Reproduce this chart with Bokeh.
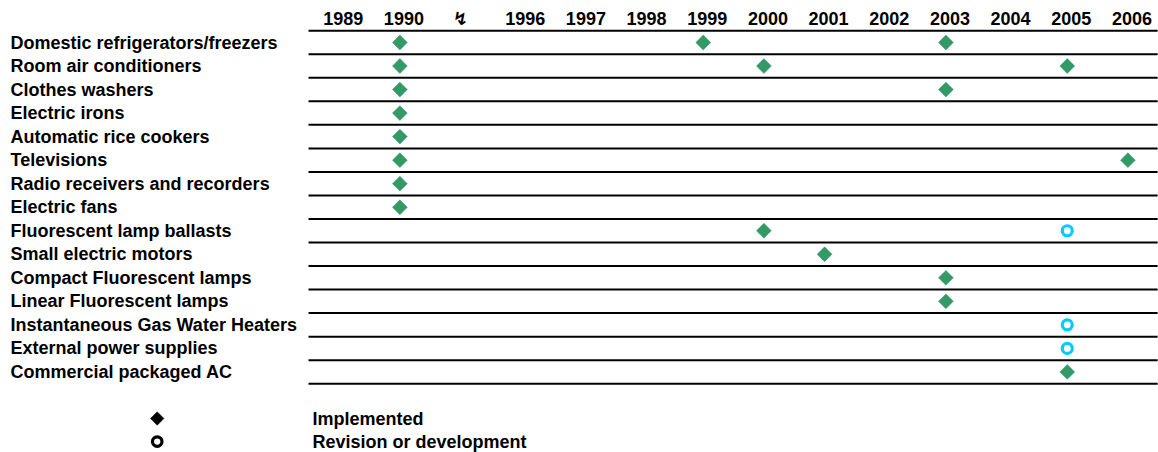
from bokeh.plotting import figure
from bokeh.models import Range1d
from bokeh.core.properties import value
from bokeh.embed import file_html
from bokeh.resources import INLINE
import math

# ---- data ----
columns = ["1989", "1990", "BREAK", "1996", "1997", "1998", "1999", "2000",
           "2001", "2002", "2003", "2004", "2005", "2006"]
break_symbol = "\u21af"

products = [
    "Domestic refrigerators/freezers",
    "Room air conditioners",
    "Clothes washers",
    "Electric irons",
    "Automatic rice cookers",
    "Televisions",
    "Radio receivers and recorders",
    "Electric fans",
    "Fluorescent lamp ballasts",
    "Small electric motors",
    "Compact Fluorescent lamps",
    "Linear Fluorescent lamps",
    "Instantaneous Gas Water Heaters",
    "External power supplies",
    "Commercial packaged AC",
]

implemented_product = [
    "Domestic refrigerators/freezers", "Domestic refrigerators/freezers", "Domestic refrigerators/freezers",
    "Room air conditioners", "Room air conditioners", "Room air conditioners",
    "Clothes washers", "Clothes washers",
    "Electric irons",
    "Automatic rice cookers",
    "Televisions", "Televisions",
    "Radio receivers and recorders",
    "Electric fans",
    "Fluorescent lamp ballasts",
    "Small electric motors",
    "Compact Fluorescent lamps",
    "Linear Fluorescent lamps",
    "Commercial packaged AC",
]
implemented_year = [
    "1990", "1999", "2003",
    "1990", "2000", "2005",
    "1990", "2003",
    "1990",
    "1990",
    "1990", "2006",
    "1990",
    "1990",
    "2000",
    "2001",
    "2003",
    "2003",
    "2005",
]

revision_product = [
    "Fluorescent lamp ballasts",
    "Instantaneous Gas Water Heaters",
    "External power supplies",
]
revision_year = ["2005", "2005", "2005"]

legend_labels = ["Implemented", "Revision or development"]

# ---- layout ----
W, H = 1158, 452
FONT = value("Liberation Sans")
GREEN = "#339966"
CYAN = "#00ccff"

colx = {c: i for i, c in enumerate(columns)}
rowy = {p: j for j, p in enumerate(products)}

p = figure(width=W, height=H, output_backend="svg", toolbar_location=None,
           x_range=Range1d(-5.583, 13.504), y_range=Range1d(17.424, -1.785),
           min_border=0)
p.xaxis.visible = False
p.yaxis.visible = False
p.grid.visible = False
p.outline_line_color = None
p.background_fill_color = "white"
p.border_fill_color = "white"

# horizontal row lines
n = len(products)
xs0 = [-0.506] * (n + 1)
xs1 = [13.49] * (n + 1)
ys = [j - 0.5 for j in range(n + 1)]
p.segment(x0=xs0, y0=ys, x1=xs1, y1=ys, line_color="black", line_width=2)

# header
hdr_x = [colx[c] for c in columns if c != "BREAK"]
hdr_t = [c for c in columns if c != "BREAK"]
p.text(x=hdr_x, y=[-1] * len(hdr_x), text=hdr_t, text_font=FONT, text_font_style="bold",
       text_font_size="18px", text_align="center", text_baseline="middle", x_offset=4,
       text_color="black")
p.text(x=[colx["BREAK"]], y=[-1], text=[break_symbol], text_font=value("DejaVu Sans"),
       text_font_style="bold", text_font_size="18px", text_align="center",
       text_baseline="middle", text_color="black")

# row labels
p.text(x=[-5.418] * n, y=list(range(n)), text=products, text_font=FONT,
       text_font_style="bold", text_font_size="18px", text_align="left",
       text_baseline="middle", text_color="black")

# implemented markers
p.scatter(x=[colx[y] for y in implemented_year], y=[rowy[q] for q in implemented_product],
          marker="square", size=10.5, angle=math.pi / 4, fill_color=GREEN, line_color=GREEN,
          line_width=0.5)

# revision markers
p.scatter(x=[colx[y] for y in revision_year], y=[rowy[q] for q in revision_product],
          marker="circle", size=10, fill_color="white", line_color=CYAN, line_width=3.2)

# legend
p.scatter(x=[-3], y=[15.98], marker="square", size=9.5, angle=math.pi / 4,
          fill_color="black", line_color="black", line_width=0.5)
p.scatter(x=[-3], y=[16.96], marker="circle", size=9.5, fill_color="white",
          line_color="black", line_width=3.2)
p.text(x=[-0.44, -0.44], y=[15.98, 16.96], text=legend_labels, text_font=FONT,
       text_font_style="bold", text_font_size="18px", text_align="left",
       text_baseline="middle", text_color="black")

open("out.html", "w").write(file_html(p, INLINE))
